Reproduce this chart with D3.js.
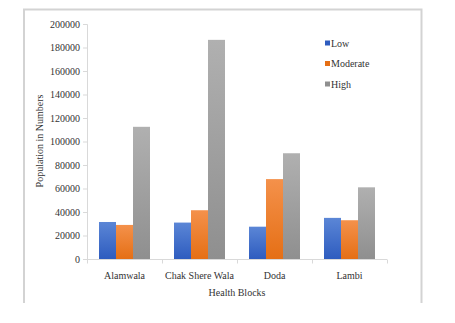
<!DOCTYPE html>
<html><head><meta charset="utf-8">
<script src="https://cdn.jsdelivr.net/npm/d3@7"></script>
<style>body{margin:0;background:#fff}svg{display:block}text{font-family:"Liberation Serif","Times New Roman",serif;fill:#333}</style>
</head><body><svg id="c" width="455" height="323"></svg>
<script>
const categories = ["Alamwala", "Chak Shere Wala", "Doda", "Lambi"];
const seriesNames = ["Low", "Moderate", "High"];
const lowValues = [31500, 31000, 27500, 35000];
const moderateValues = [29000, 41500, 68000, 33000];
const highValues = [112500, 186500, 90000, 61000];
const yTicks = [0, 20000, 40000, 60000, 80000, 100000, 120000, 140000, 160000, 180000, 200000];
const colors = [["#5b86d6", "#2e5cbf"], ["#f4914b", "#e56f15"], ["#b0b0b0", "#8f8f8f"]];

const svg = d3.select("#c");
const seriesValues = [lowValues, moderateValues, highValues];

// frame
svg.append("path").attr("d", "M24,303 V9.5 H421.5 V303").attr("fill", "none").attr("stroke", "#d3d3d3").attr("stroke-width", 2);

const defs = svg.append("defs");
colors.forEach((c, i) => {
  const g = defs.append("linearGradient").attr("id", "g" + i).attr("x1", 0).attr("y1", 0).attr("x2", 0).attr("y2", 1);
  g.append("stop").attr("offset", "0%").attr("stop-color", c[0]);
  g.append("stop").attr("offset", "100%").attr("stop-color", c[1]);
});

const x0 = d3.scaleBand().domain(categories).range([87, 387]).paddingInner(0.32).paddingOuter(0.16);
const x1 = d3.scaleBand().domain(seriesNames).range([0, x0.bandwidth()]);
const y = d3.scaleLinear().domain([0, 200000]).range([259, 24]);

// y axis
const yAxis = svg.append("g").attr("transform", "translate(87,0)").call(d3.axisLeft(y).tickValues(yTicks).tickFormat(d3.format("d")).tickSize(4).tickPadding(3));
yAxis.select(".domain").attr("stroke", "#d9d9d9").attr("d", "M-4,24.5H0.5V259.5H-4");
yAxis.selectAll(".tick line").attr("stroke", "#d9d9d9");
yAxis.selectAll(".tick text").style("font-size", "10px").attr("fill", "#444").style("font-family", '"Liberation Serif",serif');

// x axis
const xg = svg.append("g").attr("transform", "translate(0,259.5)");
xg.append("line").attr("x1", 87).attr("x2", 387).attr("stroke", "#d9d9d9");
const bounds = [87].concat(categories.map((c, i) => 87 + (i + 1) * 75));
xg.selectAll("line.t").data(bounds).join("line").attr("class", "t").attr("x1", d => d + 0.5).attr("x2", d => d + 0.5).attr("y1", 0).attr("y2", 4).attr("stroke", "#d9d9d9");
xg.selectAll("text").data(categories).join("text")
  .attr("x", d => x0(d) + x0.bandwidth() / 2).attr("y", 19).attr("text-anchor", "middle").style("font-size", "10px").attr("fill", "#444").text(d => d);

// bars
const groups = svg.append("g").selectAll("g").data(categories).join("g").attr("transform", d => `translate(${x0(d)},0)`);
groups.selectAll("rect").data((d, i) => seriesNames.map((s, j) => ({ s, j, v: seriesValues[j][i] })))
  .join("rect").attr("x", d => x1(d.s)).attr("width", x1.bandwidth())
  .attr("y", d => y(d.v)).attr("height", d => y(0) - y(d.v)).attr("fill", d => `url(#g${d.j})`);

// titles
svg.append("text").attr("transform", "translate(43,141) rotate(-90)").attr("text-anchor", "middle").style("font-size", "10px").attr("fill", "#444").text("Population in Numbers");
svg.append("text").attr("x", 237).attr("y", 296).attr("text-anchor", "middle").style("font-size", "10px").attr("fill", "#444").text("Health Blocks");

// legend
const lg = svg.append("g").selectAll("g").data(seriesNames).join("g").attr("transform", (d, i) => `translate(325,${43 + i * 20.5})`);
lg.append("rect").attr("x", 0).attr("y", -2.5).attr("width", 5).attr("height", 5).attr("fill", (d, i) => colors[i][1]);
lg.append("text").attr("x", 6).attr("y", 3.5).style("font-size", "10px").attr("fill", "#444").text(d => d);
</script></body></html>
